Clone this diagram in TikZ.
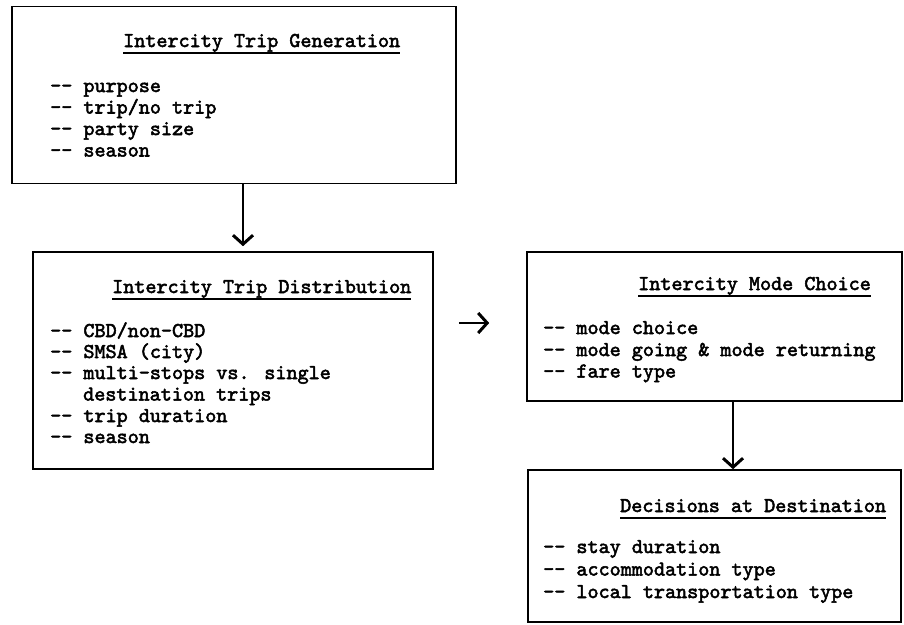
\documentclass[tikz,border=0pt]{standalone}
\usepackage{fontspec}
\newfontfamily\tw[Ligatures=TeXOff,Extension=.otf,FakeBold=2.4]{lmmono10-regular}
\usetikzlibrary{arrows.meta,calc}
\tikzset{
  box/.style={draw, line width=1.6pt, inner sep=0pt},
  txt/.style={anchor=base west, inner sep=0pt, font=\tw\fontsize{21.1}{21.5}\selectfont},
  ttl/.style={txt},
  uline/.style={line width=1.4pt},
  arr/.style={line width=2.6pt, -{Straight Barb[length=9pt,width=20pt,line width=3pt]}}
}
\begin{document}
\begin{tikzpicture}[x=1pt,y=-1pt]
\useasboundingbox (0,0) rectangle (904,624);
% boxes
\node[box, minimum width=444, minimum height=177] (b1) at (234,95) {};
\node[box, minimum width=400, minimum height=217] (b2) at (233,360.5) {};
\node[box, minimum width=375, minimum height=149] (b3) at (714.5,326.5) {};
\node[box, minimum width=373, minimum height=152] (b4) at (714.5,546) {};
% box 1
\node[ttl] (t1) at (123,47) {Intercity Trip Generation};
\draw[uline] ($(t1.base west)+(0,6)$) -- ($(t1.base east)+(0,6)$);
\node[txt] (a1) at (50,92) {-- purpose};
\node[txt] (a2) at (50,113.5) {-- trip/no trip};
\node[txt] (a3) at (50,135) {-- party size};
\node[txt] (a4) at (50,156.5) {-- season};
% box 2
\node[ttl] (t2) at (112,293) {Intercity Trip Distribution};
\draw[uline] ($(t2.base west)+(0,6)$) -- ($(t2.base east)+(0,6)$);
\node[txt] (c1) at (50,337) {-- CBD/non-CBD};
\node[txt] (c2) at (50,358) {-- SMSA (city)};
\node[txt] (c3) at (50,379) {-- multi-stops vs. single};
\node[txt] (c4) at (83,400.5) {destination trips};
\node[txt] (c5) at (50,422) {-- trip duration};
\node[txt] (c6) at (50,443) {-- season};
% box 3
\node[ttl] (t3) at (638,290) {Intercity Mode Choice};
\draw[uline] ($(t3.base west)+(0,6)$) -- ($(t3.base east)+(0,6)$);
\node[txt] (m1) at (543,334) {-- mode choice};
\node[txt] (m2) at (543,356) {-- mode going \& mode returning};
\node[txt] (m3) at (543,377.5) {-- fare type};
% box 4
\node[ttl] (t4) at (620,512) {Decisions at Destination};
\draw[uline] ($(t4.base west)+(0,6)$) -- ($(t4.base east)+(0,6)$);
\node[txt] (d1) at (543,553) {-- stay duration};
\node[txt] (d2) at (543,575.5) {-- accommodation type};
\node[txt] (d3) at (543,598) {-- local transportation type};
% connectors
\coordinate (x1) at (243,0);
\coordinate (x3) at (733,0);
\coordinate (yr) at (0,323);
\draw[arr, shorten >=5pt] (b1.south -| x1) -- (b2.north -| x1);
\draw[arr, shorten <=25pt, shorten >=37pt] (b2.east |- yr) -- (b3.west |- yr);
\draw[arr] (b3.south -| x3) -- (b4.north -| x3);
\end{tikzpicture}
\end{document}
